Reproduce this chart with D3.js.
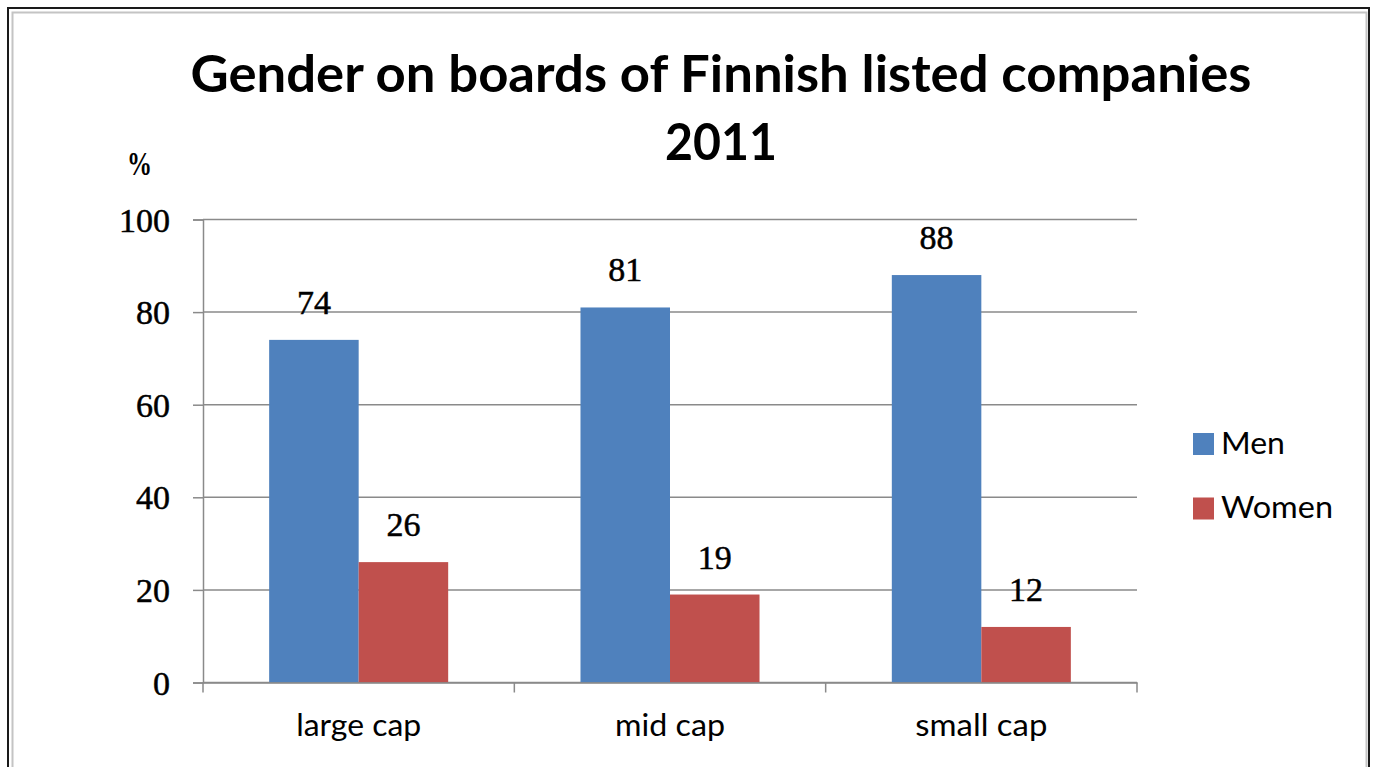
<!DOCTYPE html>
<html>
<head>
<meta charset="utf-8">
<script src="https://cdn.jsdelivr.net/npm/d3@7"></script>
<style>
  body { margin: 0; background: #fff; }
  svg { display: block; }
</style>
</head>
<body>
<div id="container"></div>
<script>
/* DATA */
const categories = ["large cap", "mid cap", "small cap"];
const series = ["Men", "Women"];
const men = [74, 81, 88];
const women = [26, 19, 12];
const yTicks = [0, 20, 40, 60, 80, 100];
const colors = ["#4F81BD", "#C0504D"];
const titleLines = ["Gender on boards of Finnish listed companies", "2011"];

const data = categories.map((c, i) => ({cat: c, values: [men[i], women[i]]}));

/* LAYOUT */
const width = 1375, height = 767;
const plot = {left: 203, right: 1137, top: 219.5, bottom: 682.5};

const svg = d3.select("#container")
  .append("svg")
  .attr("width", width)
  .attr("height", height);

// frame
svg.append("rect")
  .attr("x", 8).attr("y", 8)
  .attr("width", 1361).attr("height", 800)
  .attr("fill", "#fff")
  .attr("stroke", "#1a1a1a").attr("stroke-width", 2);
svg.append("rect")
  .attr("x", 12.5).attr("y", 12.5)
  .attr("width", 1354).attr("height", 800)
  .attr("fill", "none")
  .attr("stroke", "#c4c4c4").attr("stroke-width", 2);

/* SCALES */
const x0 = d3.scaleBand()
  .domain(categories)
  .range([plot.left, plot.right])
  .padding(0);

const x1 = d3.scaleBand()
  .domain(series)
  .range([0, x0.bandwidth()])
  .paddingInner(0)
  .paddingOuter(0.739);

const y = d3.scaleLinear()
  .domain([0, 100])
  .range([plot.bottom, plot.top]);

// gridlines
svg.append("g")
  .selectAll("line")
  .data(yTicks)
  .join("line")
  .attr("x1", plot.left).attr("x2", plot.right)
  .attr("y1", d => y(d)).attr("y2", d => y(d))
  .attr("stroke", "#8a8a8a")
  .attr("stroke-width", 1.5);

// y axis
const yAxis = svg.append("g")
  .attr("transform", "translate(" + plot.left + ",0)")
  .call(d3.axisLeft(y).tickValues(yTicks).tickSize(10).tickPadding(23));
yAxis.selectAll("path, line").attr("stroke", "#8a8a8a").attr("stroke-width", 1.5);
yAxis.selectAll("text")
  .attr("font-family", "'Liberation Serif', serif")
  .attr("font-size", 34)
  .attr("fill", "#000")
  .attr("stroke", "#000").attr("stroke-width", 0.5)
  .attr("dy", "0.34em");

// bars
const groups = svg.append("g")
  .selectAll("g")
  .data(data)
  .join("g")
  .attr("transform", d => "translate(" + x0(d.cat) + ",0)");

groups.selectAll("rect")
  .data(d => d.values.map((v, i) => ({s: series[i], v: v, i: i})))
  .join("rect")
  .attr("x", d => x1(d.s))
  .attr("y", d => y(d.v))
  .attr("width", x1.bandwidth())
  .attr("height", d => y(0) - y(d.v))
  .attr("fill", d => colors[d.i]);

// data labels
groups.selectAll("text")
  .data(d => d.values.map((v, i) => ({s: series[i], v: v})))
  .join("text")
  .attr("x", d => x1(d.s) + x1.bandwidth() / 2)
  .attr("y", d => y(d.v) - 26)
  .attr("text-anchor", "middle")
  .attr("font-family", "'Liberation Serif', serif")
  .attr("font-size", 34)
  .attr("stroke", "#000").attr("stroke-width", 0.5)
  .text(d => d.v);

// x axis
const xAxis = svg.append("g")
  .attr("transform", "translate(0," + plot.bottom + ")")
  .call(d3.axisBottom(x0).tickSize(0));
xAxis.select(".domain").attr("stroke", "#8a8a8a").attr("stroke-width", 1.5);
const xLabelWidths = {"large cap": 125, "mid cap": 110, "small cap": 132};
xAxis.selectAll("text")
  .attr("y", 53)
  .attr("dy", null)
  .attr("font-family", "Lato, sans-serif")
  .attr("font-size", 31)
  .attr("fill", "#000")
  .attr("textLength", d => xLabelWidths[d])
  .attr("lengthAdjust", "spacingAndGlyphs");

// category boundary ticks
const bounds = categories.map(c => x0(c)).concat([x0(categories[categories.length - 1]) + x0.bandwidth()]);
xAxis.selectAll("line.bound")
  .data(bounds)
  .join("line")
  .attr("class", "bound")
  .attr("x1", d => d).attr("x2", d => d)
  .attr("y1", 0).attr("y2", 10)
  .attr("stroke", "#8a8a8a").attr("stroke-width", 1.5);

// % label
svg.append("text")
  .attr("x", 127).attr("y", 175)
  .attr("font-family", "'Liberation Serif', serif")
  .attr("font-weight", "bold")
  .attr("font-size", 34)
  .attr("textLength", 25)
  .attr("lengthAdjust", "spacingAndGlyphs")
  .text("%");

// title
svg.append("text")
  .attr("x", 721).attr("y", 92)
  .attr("text-anchor", "middle")
  .attr("font-family", "Lato, sans-serif")
  .attr("font-weight", "bold")
  .attr("font-size", 51)
  .attr("textLength", 1061)
  .attr("lengthAdjust", "spacingAndGlyphs")
  .text(titleLines[0]);
svg.append("text")
  .attr("x", 721).attr("y", 159.5)
  .attr("text-anchor", "middle")
  .attr("font-family", "Lato, sans-serif")
  .attr("font-weight", "bold")
  .attr("font-size", 51)
  .attr("textLength", 112)
  .attr("lengthAdjust", "spacingAndGlyphs")
  .text(titleLines[1]);

// legend
const legendY = d3.scalePoint().domain(series).range([433, 497.5]);
const legendWidths = [64, 112];
const legend = svg.append("g")
  .selectAll("g")
  .data(series)
  .join("g")
  .attr("transform", d => "translate(1193," + legendY(d) + ")");
legend.append("rect")
  .attr("width", 21).attr("height", 22)
  .attr("fill", (d, i) => colors[i]);
legend.append("text")
  .attr("x", 28).attr("y", 20.5)
  .attr("font-family", "Lato, sans-serif")
  .attr("font-size", 31)
  .attr("textLength", (d, i) => legendWidths[i])
  .attr("lengthAdjust", "spacingAndGlyphs")
  .text(d => d);
</script>
</body>
</html>
